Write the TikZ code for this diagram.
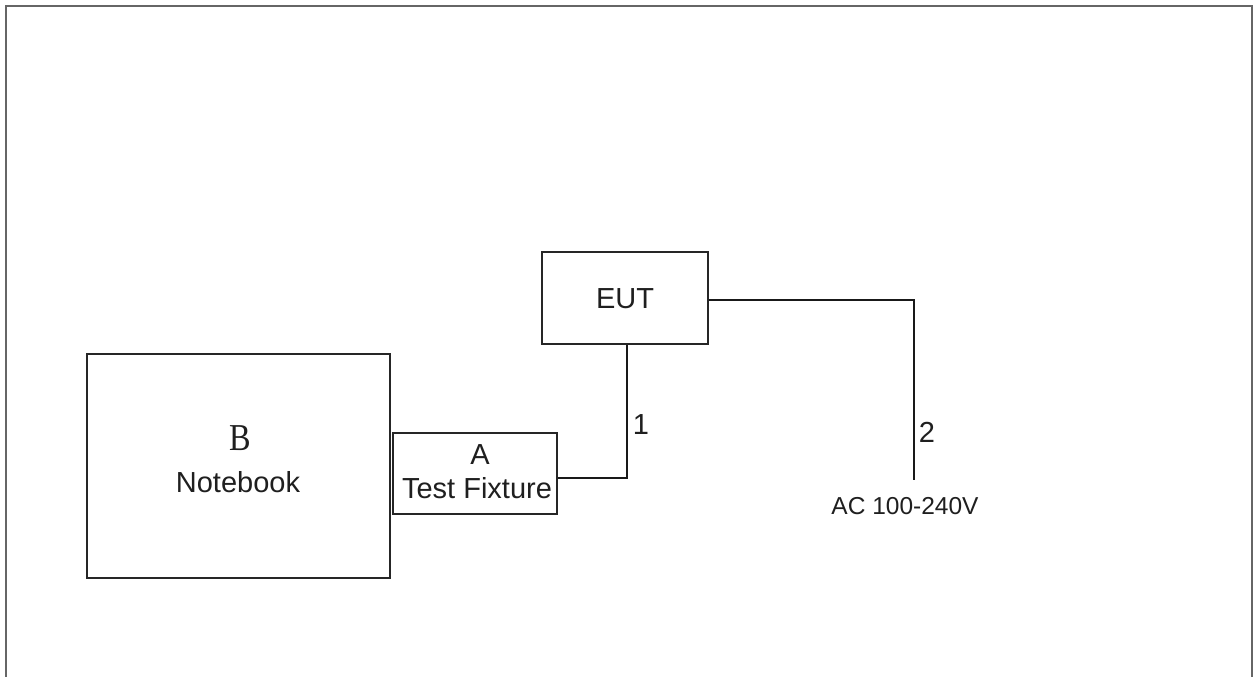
\documentclass[tikz,border=0pt]{standalone}
\usepackage{fontspec}
\setmainfont{Liberation Sans}
\newfontfamily\serifB{Liberation Serif}
\begin{document}
\begin{tikzpicture}[x=1pt,y=-1pt,
  box/.style={draw=black!85,line width=1.6pt,rectangle,inner sep=0pt},
  lbl/.style={text=black!88,inner sep=0pt,font=\fontsize{29}{32}\selectfont},
  wire/.style={draw=black!90,line width=1.5pt}]
\useasboundingbox (0,0) rectangle (1254,677);
\draw[draw=black!60,line width=2.6pt] (6,680) -- (6,6) -- (1252,6) -- (1252,680);
\node[box,minimum width=303pt,minimum height=224pt] (nb) at (238.5,466) {};
\node[box,minimum width=164pt,minimum height=81pt] (fix) at (475,473.5) {};
\node[box,minimum width=166pt,minimum height=92pt] (eut) at (625,298) {};
\node[inner sep=0pt,text=black!88,font=\serifB\fontsize{38}{40}\selectfont] (bl) at (240,438) {\scalebox{0.85}[1]{B}};
\node[lbl] (nbl) at (238,482) {Notebook};
\node[lbl] (al) at (480,455) {A};
\node[lbl] (fl) at (477,488) {Test Fixture};
\node[lbl] (eutl) at (625,299) {EUT};
\coordinate (acend) at (914,480);
\draw[wire] ([yshift=-4.5pt]fix.east) -| ([xshift=2pt]eut.south);
\draw[wire] ([yshift=-2pt]eut.east) -| (acend);
\node[lbl] (l1) at (641,425) {1};
\node[lbl] (l2) at (927,432) {2};
\node[lbl,font=\fontsize{24.5}{27}\selectfont] (ac) at (905,506) {AC 100-240V};
\end{tikzpicture}
\end{document}
